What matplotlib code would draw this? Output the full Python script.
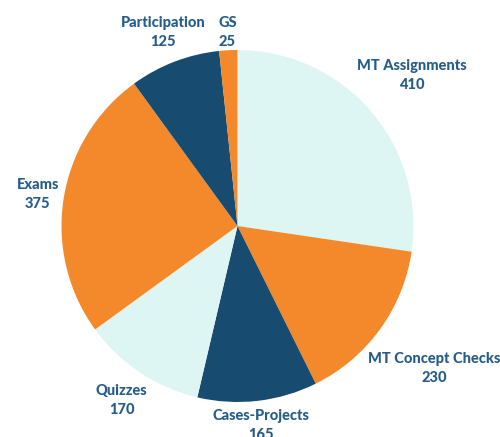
import numpy as np
import matplotlib.pyplot as plt

categories = ["MT Assignments", "MT Concept Checks", "Cases-Projects", "Quizzes",
              "Exams", "Participation", "GS"]
values = [410, 230, 165, 170, 375, 125, 25]

cyan = "#DDF6F4"
orange = "#F4892B"
navy = "#174B70"
colors = [cyan, orange, navy, cyan, orange, navy, orange]
# Abstand der Beschriftung vom Mittelpunkt (in Radien)
label_dist = [1.31, 1.38, 1.14, 1.19, 1.15, 1.18, 1.10]
text_color = "#245C8A"

plt.rcParams['font.family'] = ['Lato', 'DejaVu Sans']

fig = plt.figure(figsize=(5, 4.37), dpi=100)
ax = fig.add_axes([0, 0, 1, 1])
cx, cy, r = 237.5, 437 - 226, 176

wedges, _ = ax.pie(values, colors=colors, startangle=90, counterclock=False,
                   center=(cx, cy), radius=r, wedgeprops=dict(linewidth=0))

for w, name, val, d in zip(wedges, categories, values, label_dist):
    ang = np.deg2rad((w.theta1 + w.theta2) / 2)
    x = cx + d * r * np.cos(ang)
    y = cy + d * r * np.sin(ang)
    ax.text(x, y, f"{name}\n{val}", ha="center", va="center", fontsize=10.5,
            fontweight="black", color=text_color, linespacing=1.45)

ax.set_xlim(0, 500)
ax.set_ylim(0, 437)
ax.set_aspect("equal")
ax.axis("off")

fig.savefig("out.png", dpi=100)
